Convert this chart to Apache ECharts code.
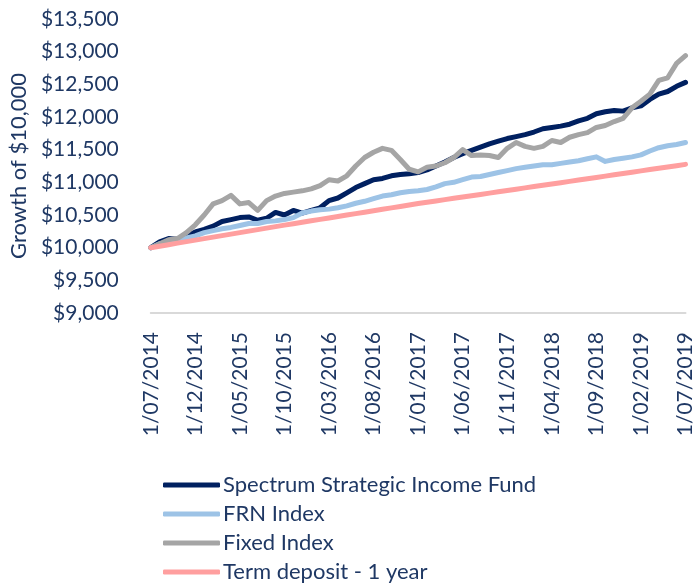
<!DOCTYPE html>
<html>
<head>
<meta charset="utf-8">
<script src="https://cdn.jsdelivr.net/npm/echarts@6/dist/echarts.min.js"></script>
<style>
  html, body { margin: 0; padding: 0; background: #fff; }
  #chart { width: 696px; height: 586px; }
</style>
</head>
<body>
<div id="chart"></div>
<script>
// monthly dates, 1/07/2014 .. 1/07/2019
var dates = [
  '1/07/2014','1/08/2014','1/09/2014','1/10/2014','1/11/2014','1/12/2014',
  '1/01/2015','1/02/2015','1/03/2015','1/04/2015','1/05/2015','1/06/2015',
  '1/07/2015','1/08/2015','1/09/2015','1/10/2015','1/11/2015','1/12/2015',
  '1/01/2016','1/02/2016','1/03/2016','1/04/2016','1/05/2016','1/06/2016',
  '1/07/2016','1/08/2016','1/09/2016','1/10/2016','1/11/2016','1/12/2016',
  '1/01/2017','1/02/2017','1/03/2017','1/04/2017','1/05/2017','1/06/2017',
  '1/07/2017','1/08/2017','1/09/2017','1/10/2017','1/11/2017','1/12/2017',
  '1/01/2018','1/02/2018','1/03/2018','1/04/2018','1/05/2018','1/06/2018',
  '1/07/2018','1/08/2018','1/09/2018','1/10/2018','1/11/2018','1/12/2018',
  '1/01/2019','1/02/2019','1/03/2019','1/04/2019','1/05/2019','1/06/2019',
  '1/07/2019'
];

var spectrum = [
  10000,10090,10140,10130,10180,10240,10280,10330,10400,10430,
  10460,10470,10420,10450,10540,10500,10570,10530,10570,10610,
  10720,10760,10840,10920,10980,11040,11060,11100,11120,11130,
  11150,11190,11250,11310,11380,11440,11490,11540,11590,11630,
  11670,11700,11730,11770,11820,11840,11860,11890,11940,11980,
  12050,12080,12100,12090,12140,12170,12270,12350,12390,12470,12530
];

var frn = [
  10000,10060,10080,10110,10150,10180,10230,10260,10290,10310,
  10340,10370,10370,10400,10410,10430,10460,10530,10560,10580,
  10590,10610,10640,10680,10710,10750,10790,10810,10840,10860,
  10870,10890,10930,10980,11000,11040,11080,11090,11120,11150,
  11180,11210,11230,11250,11270,11270,11290,11310,11330,11360,
  11390,11320,11350,11370,11390,11420,11480,11530,11560,11580,11610
];

var fixed = [
  10000,10060,10120,10140,10230,10350,10500,10670,10720,10800,
  10670,10690,10570,10720,10790,10830,10850,10870,10900,10950,
  11040,11020,11100,11250,11380,11460,11520,11490,11350,11200,
  11160,11230,11250,11300,11380,11500,11410,11420,11410,11380,
  11520,11610,11550,11520,11550,11640,11610,11690,11730,11760,
  11840,11870,11930,11980,12140,12240,12350,12560,12600,12820,12940
];

var termDeposit = [
  10000,10023,10046,10069,10092,10115,10138,10161,10184,10207,
  10230,10253,10276,10299,10322,10345,10367,10389,10411,10433,
  10455,10477,10499,10521,10543,10565,10587,10609,10631,10653,
  10675,10695,10715,10735,10755,10775,10795,10815,10835,10855,
  10875,10895,10915,10935,10955,10975,10995,11015,11035,11055,
  11075,11095,11115,11135,11155,11175,11195,11215,11235,11255,11275
];

var seriesNames = ['Spectrum Strategic Income Fund','FRN Index','Fixed Index','Term deposit - 1 year'];
var seriesColors = ['#002060','#9dc3e6','#a5a5a5','#ff9f9f'];
var seriesData = [spectrum, frn, fixed, termDeposit];

var textColor = '#1f3864';
var font = 'Lato';

var chart = echarts.init(document.getElementById('chart'));

var series = [];
for (var i = 0; i < seriesNames.length; i++) {
  series.push({
    name: seriesNames[i],
    type: 'line',
    data: seriesData[i],
    symbol: 'none',
    showSymbol: false,
    color: seriesColors[i],
    lineStyle: { width: 5, color: seriesColors[i], cap: 'round', join: 'round' },
    emphasis: { disabled: true }
  });
}

var option = {
  animation: false,
  grid: { left: 147, right: 9, top: 19, bottom: 273 },
  legend: {
    orient: 'vertical',
    left: 163,
    top: 474,
    padding: 0,
    icon: 'roundRect',
    itemWidth: 57,
    itemHeight: 5,
    itemGap: 7,
    textStyle: { color: textColor, fontSize: 22, fontFamily: font, lineHeight: 22, padding: [0, 0, 0, -2] },
    data: seriesNames
  },
  xAxis: {
    type: 'category',
    data: dates,
    boundaryGap: false,
    axisLine: { lineStyle: { color: '#d9d9d9', width: 2 } },
    axisTick: { show: false },
    axisLabel: {
      interval: 4,
      rotate: 90,
      margin: 19,
      color: textColor,
      fontSize: 21,
      fontFamily: font
    },
    splitLine: { show: false }
  },
  yAxis: {
    type: 'value',
    min: 9000,
    max: 13500,
    interval: 500,
    name: 'Growth of $10,000',
    nameLocation: 'middle',
    nameGap: 107,
    nameTextStyle: { color: textColor, fontSize: 22, fontFamily: font },
    axisLine: { show: false },
    axisTick: { show: false },
    splitLine: { show: false },
    axisLabel: {
      margin: 32,
      color: textColor,
      fontSize: 21,
      fontFamily: font,
      formatter: function (v) {
        return '$' + v.toLocaleString('en-US');
      }
    }
  },
  series: series
};

chart.setOption(option);
</script>
</body>
</html>
